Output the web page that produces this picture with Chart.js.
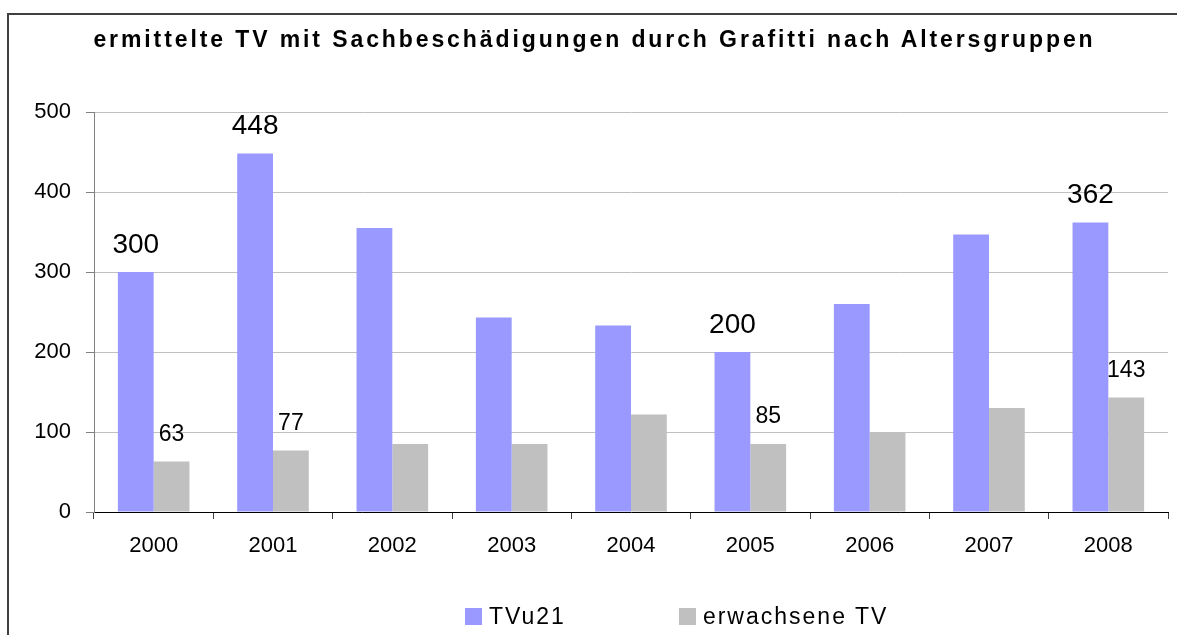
<!DOCTYPE html>
<html>
<head>
<meta charset="utf-8">
<script src="https://cdn.jsdelivr.net/npm/chart.js@4.4.1/dist/chart.umd.min.js"></script>
<style>
  body { margin: 0; background: #fff; font-family: "Liberation Sans", Arial, sans-serif; }
  #wrap { position: relative; width: 1177px; height: 635px; overflow: hidden; }
  #frame { position: absolute; left: 7px; top: 13px; width: 1200px; height: 700px;
           border-top: 2px solid #404040; border-left: 2px solid #404040; }
  #title { position: absolute; left: 0; width: 1189px; top: 26px; text-align: center; white-space: nowrap;
           font-weight: bold; font-size: 23px; line-height: 26px; letter-spacing: 2.9px; color: #000; }
  #legend { position: absolute; top: 603px; left: 465px; display: flex; font-size: 23px; line-height: 26px; letter-spacing: 2px; white-space: nowrap; }
  #legend .item { display: flex; align-items: center; }
  #legend .box { width: 17px; height: 17px; margin-right: 7px; }
  canvas { position: absolute; left: 0; top: 0; }
</style>
</head>
<body>
<div id="wrap">
  <canvas id="myChart" width="1177" height="635"></canvas>
  <div id="frame"></div>
  <div id="title">ermittelte TV mit Sachbeschädigungen durch Grafitti nach Altersgruppen</div>
  <div id="legend"></div>
</div>
<script>
var years = ['2000', '2001', '2002', '2003', '2004', '2005', '2006', '2007', '2008'];
var tvu21 = [300, 448, 355, 243, 233, 200, 260, 347, 362];
var erwachsene = [63, 77, 85, 85, 122, 85, 100, 130, 143];
var seriesNames = ['TVu21', 'erwachsene TV'];
var colors = ['#9999FF', '#C0C0C0'];
// nur diese Jahre haben im Original eine Beschriftung
var labelledYears = ['2000', '2001', '2005', '2008'];
var labelFonts = ['28px "Liberation Sans", Arial', '23px "Liberation Sans", Arial'];

var valueLabels = {
    id: 'valueLabels',
    afterDatasetsDraw: function(chart) {
        var ctx = chart.ctx;
        ctx.save();
        ctx.fillStyle = '#000';
        ctx.textAlign = 'center';
        ctx.textBaseline = 'middle';
        chart.data.datasets.forEach(function(ds, i) {
            var meta = chart.getDatasetMeta(i);
            ctx.font = labelFonts[i];
            meta.data.forEach(function(bar, j) {
                if (labelledYears.indexOf(years[j]) < 0) return;
                ctx.fillText(ds.data[j], bar.x, bar.y - 27);
            });
        });
        ctx.restore();
    }
};

var myChart = document.getElementById('myChart').getContext('2d');

var chart = new Chart(myChart, {
    type: 'bar',
    data: {
        labels: years,
        datasets: [{
            label: seriesNames[0],
            data: tvu21,
            backgroundColor: colors[0]
        }, {
            label: seriesNames[1],
            data: erwachsene,
            backgroundColor: colors[1]
        }]
    },
    options: {
        responsive: false,
        animation: false,
        devicePixelRatio: 1,
        layout: {
            padding: { left: 0, right: 9, top: 112, bottom: 63 }
        },
        datasets: {
            bar: { categoryPercentage: 0.6, barPercentage: 1 }
        },
        plugins: {
            legend: { display: false },
            title: { display: false },
            tooltip: { enabled: false }
        },
        scales: {
            x: {
                offset: true,
                grid: { offset: true, drawOnChartArea: false, tickLength: 7, color: '#404040' },
                border: { color: '#000' },
                ticks: { color: '#000', padding: 14, font: { size: 22, family: '"Liberation Sans", Arial' } },
                afterFit: function(scale) { scale.height = 60; }
            },
            y: {
                min: 0,
                max: 500,
                ticks: { stepSize: 100, color: '#000', padding: 15, font: { size: 22, family: '"Liberation Sans", Arial' } },
                grid: { color: '#C0C0C0', tickLength: 8, tickColor: '#808080' },
                border: { color: '#808080' },
                afterFit: function(scale) { scale.width = 94; }
            }
        }
    },
    plugins: [valueLabels]
});

// Legende als HTML, damit die Sperrung wie im Original aussieht
var legend = document.getElementById('legend');
seriesNames.forEach(function(name, i) {
    var item = document.createElement('div');
    item.className = 'item';
    item.style.marginRight = i === 0 ? '113px' : '0';
    item.innerHTML = '<span class="box" style="background:' + colors[i] + '"></span><span>' + name + '</span>';
    legend.appendChild(item);
});
</script>
</body>
</html>
